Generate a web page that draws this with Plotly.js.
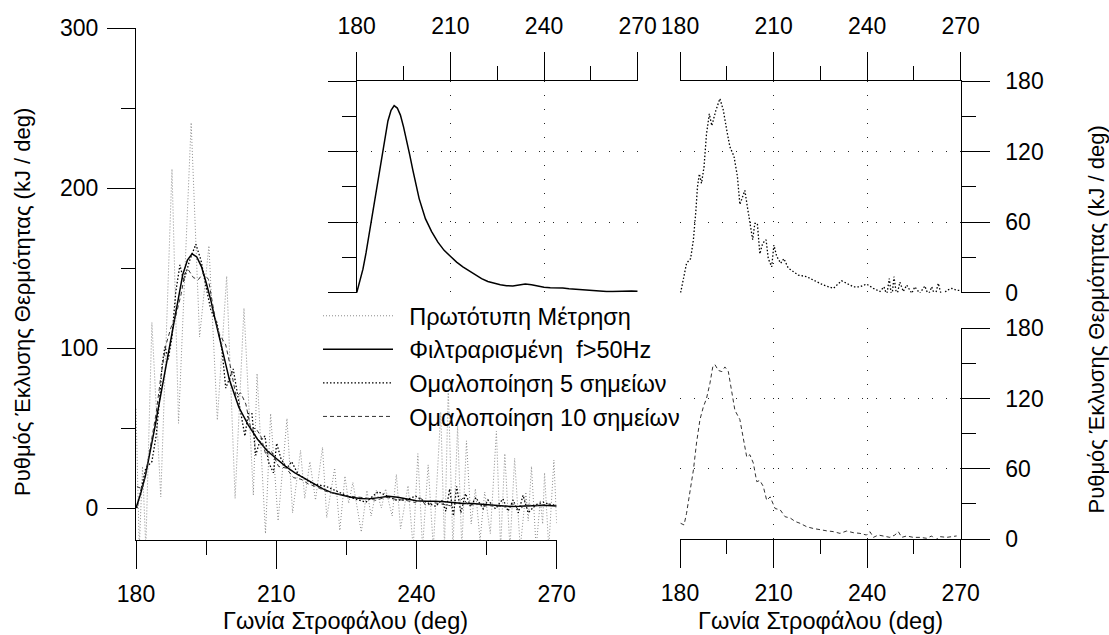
<!DOCTYPE html>
<html>
<head>
<meta charset="utf-8">
<script src="https://cdn.plot.ly/plotly-3.0.1.min.js"></script>
<style>html,body{margin:0;padding:0;background:#fff;}#chart{width:1109px;height:635px;}</style>
</head>
<body>
<div id="chart"></div>
<script>
// ---- data ----
const rawX = [180, 180.7, 181.4, 182.1, 183.4, 185.3, 187.7, 189.1, 191.8, 193.6, 195.6, 197.4, 199.4, 201.2, 203.1, 205.1, 205.9, 207.7, 208.8, 210.4, 212.3, 213.5, 215.2, 216.1, 217.2, 218.4, 219.9, 220.8, 222.5, 223.6, 224.7, 225.5, 226.4, 228.2, 229.4, 230.3, 231.4, 232.5, 233.4, 234.8, 235.7, 236.6, 238.2, 239.3, 240.3, 241.3, 242.5, 243.6, 245.2, 246.0, 246.8, 247.8, 248.8, 249.7, 250.7, 251.7, 252.6, 253.6, 254.6, 255.8, 257.1, 258.0, 258.9, 260.0, 261.0, 262.2, 263.4, 263.9, 264.6, 265.6, 266.5, 267.0, 267.4, 268.3, 269.4, 270];
const rawY = [62, -25, 26, -25, 116, 7, 212, 53, 241, 107, 164, 55, 145, 6, 125, 8, 84, -16, 59, -8, 56, -3, 36, 6, 29, 5, 38, -6, 25, -14, 20, 3, 16, -15, 11, -5, 11, 0, 12, -5, 21, -13, 14, -25, 34, -25, 27, -25, 60, -25, 75, -25, 51, -25, 42, -10, 12, -20, 10, -16, 48, -25, 34, -25, 31, -25, 10, -8, 26, -25, 5, -10, 22, -25, 30, -10];

const filtX = [180, 181, 182, 183, 184, 185, 186, 187, 188, 189, 190, 191, 192, 193, 194, 195, 196, 197, 198, 199, 200, 202, 204, 206, 208, 210, 212, 214, 216, 218, 220, 222, 224, 226, 228, 230, 232, 234, 236, 238, 240, 242, 244, 246, 248, 250, 252, 254, 256, 258, 260, 262, 264, 266, 268, 270];
const filtY = [0, 9, 20, 34, 50, 66, 82, 99, 116, 132, 146, 155, 159, 157, 151, 141, 130, 117, 104, 91, 80, 63, 52, 43, 36, 31, 26, 22, 18.5, 15, 12, 9.5, 8, 6.8, 6, 5.8, 6.5, 7.3, 6.8, 5.5, 4.6, 4.2, 4.3, 3.9, 3.3, 2.9, 2.8, 2.4, 1.8, 1.2, 1.0, 1.1, 1.4, 1.6, 1.5, 1.2];

const s5X = [180.2, 181.3, 182.1, 183.4, 184.3, 185.1, 185.6, 186.2, 186.9, 187.7, 188.5, 189.4, 190.2, 190.7, 191.5, 192.8, 193.9, 195.0, 196.0, 197.3, 198.4, 199.2, 200.1, 200.8, 201.6, 202.4, 203.3, 204.0, 204.8, 205.6, 206.5, 207.6, 208.3, 209.4, 210.1, 211.0, 212.3, 213.3, 214.7, 216.3, 217.9, 220.6, 222.7, 226.0, 229.2, 230.8, 231.8, 233.4, 235.6, 237.7, 239.8, 242.0, 244.1, 245.4, 246.3, 247.1, 247.9, 248.6, 249.5, 250.5, 251.6, 252.7, 254.3, 255.3, 256.9, 258.5, 259.6, 260.7, 261.8, 262.8, 263.9, 265.5, 267.1, 268.7, 269.8];
const s5Y = [0, 13.6, 25, 29, 45, 70, 90, 101, 93, 107, 135, 152, 142, 147, 155, 165, 155, 138, 124, 116, 99, 75, 82, 87, 73, 59, 45, 59, 59, 33, 42, 45, 29, 22, 40.5, 31, 25, 29, 21, 18, 15, 13.6, 11, 6.5, 3.7, 7.4, 10.2, 8, 5, 5, 7.4, 3.7, 1, 5, -2, 12, -5, 13.6, -3, 9, 1, 6.5, -0.5, 5, -0.5, 5.7, -2, 5, -3, 8, -3, 2, 3.7, 2, 2];

const s10X = [180.2, 181.3, 182.1, 183.4, 184.3, 185.3, 186.4, 187.5, 188.5, 189.6, 190.5, 191.2, 192.3, 193.4, 194.4, 195.5, 196.6, 197.6, 199.2, 200.3, 201.4, 202.4, 203.5, 204.6, 205.6, 206.7, 207.8, 208.9, 210.5, 212.1, 213.7, 215.3, 216.9, 218.5, 220.6, 222.7, 224.9, 227.0, 229.2, 231.3, 233.4, 235.6, 237.7, 239.8, 240.9, 242.0, 243.6, 245.2, 247.3, 248.9, 250.0, 251.1, 252.7, 254.8, 257.0, 259.1, 260.7, 261.8, 263.4, 265.5, 267.6, 268.7];
const s10Y = [13.4, 12, 22, 45, 59, 82, 102, 113, 120, 133, 147, 149, 144, 143, 147, 143, 124, 110, 102, 87, 70, 72, 65, 49, 50, 45, 33, 36, 26, 25, 19, 18, 15, 13.4, 10.5, 9, 7.7, 7, 6.3, 4.8, 6.8, 5.4, 4.8, 3.4, 6.3, 1.4, 3.4, 2.6, 1.4, 3.4, 6.3, 1.4, 2.6, 1.4, 1.4, 0.6, 2.6, -1, 2, 1.4, 2, 2.6];

const seriesNames = ['Πρωτότυπη Μέτρηση', 'Φιλτραρισμένη\u00a0 f&gt;50Hz', 'Ομαλοποίηση 5 σημείων', 'Ομαλοποίηση 10 σημείων'];
const xTitle = 'Γωνία Στροφάλου (deg)';
const yTitle = 'Ρυθμός Έκλυσης Θερμότητας (kJ / deg)';

// ---- layout helpers ----
const W = 1109, H = 635;
const fx = p => p / W;
const fy = p => 1 - p / H;
const FONT = 'Liberation Sans, Arial, sans-serif';
const FS_TICK = 23;
const FS_XT = 23.5;
const FS_YT = 22;
const FS_LEG = 23.5;

const lineRaw = {color: '#8c8c8c', width: 1, dash: '1px,2px'};
const lineFilt = {color: '#000', width: 1.5};
const lineS5 = {color: '#000', width: 1.3, dash: '1.5px,2px'};
const lineS10 = {color: '#333', width: 1, dash: '4px,3px'};

const pad = '\u00a0\u2009';
const traces = [
  {x: rawX, y: rawY, xaxis: 'x', yaxis: 'y', mode: 'lines', name: pad + seriesNames[0], line: lineRaw},
  {x: filtX, y: filtY, xaxis: 'x', yaxis: 'y', mode: 'lines', name: pad + seriesNames[1], line: lineFilt},
  {x: s5X, y: s5Y, xaxis: 'x', yaxis: 'y', mode: 'lines', name: pad + seriesNames[2], line: lineS5},
  {x: s10X, y: s10Y, xaxis: 'x', yaxis: 'y', mode: 'lines', name: pad + seriesNames[3], line: lineS10},
  {x: filtX, y: filtY, xaxis: 'x2', yaxis: 'y2', mode: 'lines', showlegend: false, line: lineFilt},
  {x: s5X, y: s5Y, xaxis: 'x3', yaxis: 'y3', mode: 'lines', showlegend: false, line: lineS5},
  {x: s10X, y: s10Y, xaxis: 'x4', yaxis: 'y4', mode: 'lines', showlegend: false, line: lineS10}
];

const common = {
  showline: true, linecolor: '#000', linewidth: 1, mirror: false,
  ticks: 'outside', ticklen: 28, tickwidth: 1, tickcolor: '#000',
  zeroline: false, tickfont: {family: FONT, size: FS_TICK, color: '#000'},
  fixedrange: true
};
const grid = {showgrid: true, gridcolor: '#222', gridwidth: 1, griddash: '1px,13px'};
const xcommon = Object.assign({}, common, {range: [180, 270], tick0: 180, dtick: 30,
  minor: {dtick: 15, tick0: 180, ticklen: 14, tickwidth: 1, tickcolor: '#000', showgrid: false}});
const ysmall = Object.assign({}, common, {range: [0, 180], tick0: 0, dtick: 60,
  minor: {dtick: 30, tick0: 0, ticklen: 14, tickwidth: 1, tickcolor: '#000', showgrid: false}});

const layout = {
  width: W, height: H, autosize: false,
  margin: {l: 0, r: 0, t: 0, b: 0, pad: 0},
  paper_bgcolor: '#fff', plot_bgcolor: 'rgba(0,0,0,0)',
  font: {family: FONT, size: FS_TICK, color: '#000'},
  showlegend: true,
  legend: {x: fx(318), y: fy(294), xanchor: 'left', yanchor: 'top',
    bgcolor: 'rgba(0,0,0,0)', borderwidth: 0, itemwidth: 70,
    font: {family: FONT, size: FS_LEG, color: '#000'}, tracegroupgap: 0},
  xaxis: Object.assign({}, xcommon, {domain: [fx(136), fx(556.7)], anchor: 'y', side: 'bottom', showgrid: false, ticklabelstandoff: 5}),
  yaxis: Object.assign({}, common, {domain: [fy(540), fy(28.3)], anchor: 'x', side: 'left',
    range: [-20, 300], tick0: 0, dtick: 100, showgrid: false, ticklabelstandoff: 4,
    minor: {dtick: 50, tick0: 0, ticklen: 14, tickwidth: 1, tickcolor: '#000', showgrid: false}}),
  xaxis2: Object.assign({}, xcommon, grid, {domain: [fx(356.7), fx(637.7)], anchor: 'y2', side: 'top', ticklabelstandoff: 9}),
  yaxis2: Object.assign({}, ysmall, grid, {domain: [fy(292.7), fy(81)], anchor: 'x2', side: 'left', showticklabels: false}),
  xaxis3: Object.assign({}, xcommon, grid, {domain: [fx(680), fx(960.7)], anchor: 'y3', side: 'top', ticklabelstandoff: 9}),
  yaxis3: Object.assign({}, ysmall, grid, {domain: [fy(292.7), fy(81)], anchor: 'x3', side: 'right', ticklabelstandoff: 11}),
  xaxis4: Object.assign({}, xcommon, grid, {domain: [fx(680), fx(960.7)], anchor: 'y4', side: 'bottom', ticklabelstandoff: 5}),
  yaxis4: Object.assign({}, ysmall, grid, {domain: [fy(539), fy(328.3)], anchor: 'x4', side: 'right', ticklabelstandoff: 11}),
  annotations: [
    {text: xTitle, xref: 'paper', yref: 'paper', x: fx(345), y: fy(621), xanchor: 'center', yanchor: 'middle', showarrow: false, font: {family: FONT, size: FS_XT, color: '#000'}},
    {text: xTitle, xref: 'paper', yref: 'paper', x: fx(820), y: fy(621), xanchor: 'center', yanchor: 'middle', showarrow: false, font: {family: FONT, size: FS_XT, color: '#000'}},
    {text: yTitle, xref: 'paper', yref: 'paper', x: fx(22), y: fy(302), xanchor: 'center', yanchor: 'middle', textangle: -90, showarrow: false, font: {family: FONT, size: FS_YT, color: '#000'}},
    {text: yTitle, xref: 'paper', yref: 'paper', x: fx(1095.5), y: fy(320), xanchor: 'center', yanchor: 'middle', textangle: -90, showarrow: false, font: {family: FONT, size: FS_YT, color: '#000'}}
  ]
};

Plotly.newPlot('chart', traces, layout, {staticPlot: true, displayModeBar: false});
</script>
</body>
</html>
